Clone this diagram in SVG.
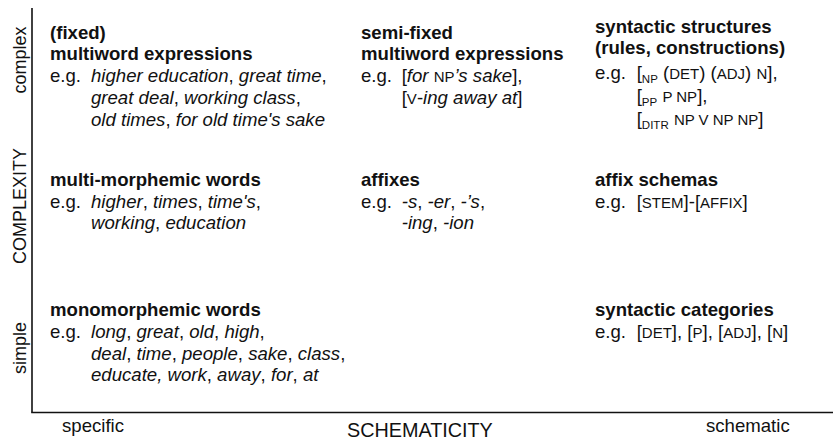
<svg xmlns="http://www.w3.org/2000/svg" width="833" height="440" viewBox="0 0 833 440">
  <style>
    text { font-family: "Liberation Sans", Arial, sans-serif; font-size: 18.6px; fill: #111; }
    .h { font-weight: bold; }
    .i { font-style: italic; }
    .sc { font-size: 15px; }
    .sub { font-size: 11.5px; }
    .ax { font-size: 18px; }
    .big { font-size: 19.8px; }
    .axis { stroke: #111; stroke-width: 1.6; fill: none; }
  </style>
  <rect width="833" height="440" fill="#fff"/>

  <!-- axes -->
  <g id="axes">
    <line class="axis" x1="32" y1="8" x2="32" y2="412.5"/>
    <line class="axis" x1="31.2" y1="412.5" x2="833" y2="412.5"/>
    <text class="ax" transform="translate(26,60) rotate(-90)" text-anchor="middle">complex</text>
    <text class="ax" transform="translate(26,206) rotate(-90)" text-anchor="middle">COMPLEXITY</text>
    <text class="ax" transform="translate(26,348) rotate(-90)" text-anchor="middle">simple</text>
    <text x="62" y="432">specific</text>
    <text class="big" x="347" y="437">SCHEMATICITY</text>
    <text x="706" y="432">schematic</text>
  </g>

  <!-- complex / specific -->
  <g id="fixed-mwe">
    <text class="h" x="50" y="38.5">(fixed)</text>
    <text class="h" x="50" y="60">multiword expressions</text>
    <text x="50" y="82">e.g.</text>
    <text x="91" y="82"><tspan class="i">higher education</tspan>, <tspan class="i">great time</tspan>,</text>
    <text x="91" y="104"><tspan class="i">great deal</tspan>, <tspan class="i">working class</tspan>,</text>
    <text x="91" y="126"><tspan class="i">old times</tspan>, <tspan class="i">for old time's sake</tspan></text>
  </g>

  <g id="semi-fixed-mwe">
    <text class="h" x="361" y="38.5">semi-fixed</text>
    <text class="h" x="361" y="60">multiword expressions</text>
    <text x="361" y="82">e.g.</text>
    <text x="401.7" y="82">[<tspan class="i">for</tspan> <tspan class="sc">NP</tspan><tspan class="i">’s sake</tspan>],</text>
    <text x="401.7" y="104">[<tspan class="sc">V</tspan>-<tspan class="i">ing away at</tspan>]</text>
  </g>

  <g id="syntactic-structures">
    <text class="h" x="595" y="33">syntactic structures</text>
    <text class="h" x="595" y="54">(rules, constructions)</text>
    <text x="595" y="79">e.g.</text>
    <text x="636.7" y="79">[<tspan class="sub" dy="4">NP</tspan><tspan dy="-4"> (</tspan><tspan class="sc">DET</tspan>) (<tspan class="sc">ADJ</tspan>) <tspan class="sc">N</tspan>],</text>
    <text x="636.7" y="102">[<tspan class="sub" dy="4">PP</tspan><tspan dy="-4"> </tspan><tspan class="sc">P NP</tspan>],</text>
    <text x="636.7" y="125">[<tspan class="sub" dy="4">DITR</tspan><tspan dy="-4"> </tspan><tspan class="sc">NP V NP NP</tspan>]</text>
  </g>

  <!-- middle row -->
  <g id="multi-morphemic-words">
    <text class="h" x="50" y="186">multi-morphemic words</text>
    <text x="50" y="207.5">e.g.</text>
    <text x="91" y="207.5"><tspan class="i">higher</tspan>, <tspan class="i">times</tspan>, <tspan class="i">time's</tspan>,</text>
    <text x="91" y="229"><tspan class="i">working</tspan>, <tspan class="i">education</tspan></text>
  </g>

  <g id="affixes">
    <text class="h" x="361" y="186">affixes</text>
    <text x="361" y="207.5">e.g.</text>
    <text x="401.7" y="207.5"><tspan class="i">-s</tspan>, <tspan class="i">-er</tspan>, <tspan class="i">-’s</tspan>,</text>
    <text x="401.7" y="229"><tspan class="i">-ing</tspan>, <tspan class="i">-ion</tspan></text>
  </g>

  <g id="affix-schemas">
    <text class="h" x="595" y="186">affix schemas</text>
    <text x="595" y="207.5">e.g.</text>
    <text x="636.7" y="207.5">[<tspan class="sc">STEM</tspan>]-[<tspan class="sc">AFFIX</tspan>]</text>
  </g>

  <!-- simple row -->
  <g id="monomorphemic-words">
    <text class="h" x="50" y="316">monomorphemic words</text>
    <text x="50" y="338">e.g.</text>
    <text x="91" y="338"><tspan class="i">long</tspan>, <tspan class="i">great</tspan>, <tspan class="i">old</tspan>, <tspan class="i">high</tspan>,</text>
    <text x="91" y="359.5"><tspan class="i">deal</tspan>, <tspan class="i">time</tspan>, <tspan class="i">people</tspan>, <tspan class="i">sake</tspan>, <tspan class="i">class</tspan>,</text>
    <text x="91" y="381"><tspan class="i">educate, work</tspan>, <tspan class="i">away</tspan>, <tspan class="i">for</tspan>, <tspan class="i">at</tspan></text>
  </g>

  <g id="syntactic-categories">
    <text class="h" x="595" y="316">syntactic categories</text>
    <text x="595" y="338">e.g.</text>
    <text x="636.7" y="338">[<tspan class="sc">DET</tspan>], [<tspan class="sc">P</tspan>], [<tspan class="sc">ADJ</tspan>], [<tspan class="sc">N</tspan>]</text>
  </g>
</svg>
